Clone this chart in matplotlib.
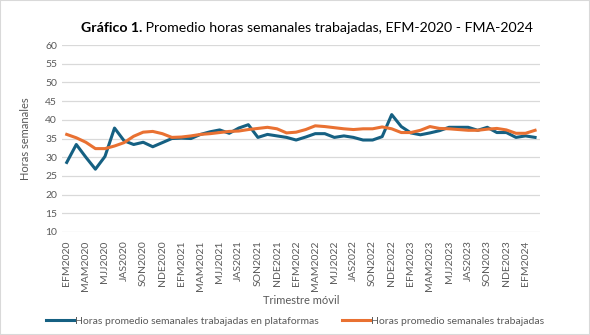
import matplotlib
matplotlib.use("Agg")
import matplotlib.pyplot as plt
from matplotlib.patches import Rectangle

plt.rcParams["font.family"] = ["Lato", "DejaVu Sans"]

quarters = ["EFM", "FMA", "MAM", "AMJ", "MJJ", "JJA",
            "JAS", "ASO", "SON", "OND", "NDE", "DEF"]
years = [2020, 2021, 2022, 2023, 2024]
periods = [f"{q}{y}" for y in years for q in quarters][:50]

plataformas = [28.6, 33.4, 30.0, 26.8, 30.2, 37.8, 34.4, 33.4, 34.0, 32.8,
               33.9, 35.0, 35.1, 35.0, 36.1, 36.8, 37.3, 36.4, 37.8, 38.7,
               35.3, 36.1, 35.7, 35.3, 34.6, 35.4, 36.3, 36.3, 35.3, 35.7,
               35.3, 34.6, 34.6, 35.5, 41.4, 38.2, 36.5, 36.0, 36.5, 37.1,
               38.0, 38.0, 38.0, 37.2, 38.0, 36.6, 36.6, 35.3, 35.7, 35.3]
total = [36.1, 35.2, 34.0, 32.3, 32.3, 33.0, 33.9, 35.6, 36.7, 36.9,
         36.3, 35.3, 35.4, 35.7, 36.1, 36.3, 36.6, 36.9, 37.0, 37.4,
         37.7, 38.0, 37.6, 36.5, 36.7, 37.4, 38.4, 38.2, 37.9, 37.6,
         37.4, 37.6, 37.6, 38.1, 37.6, 36.6, 36.6, 37.2, 38.2, 37.7,
         37.6, 37.4, 37.2, 37.2, 37.5, 37.7, 37.3, 36.4, 36.4, 37.2]

blue = "#156082"
orange = "#E97132"
grey = "#595959"

fig = plt.figure(figsize=(5.9, 3.35), dpi=100)
fig.patches.append(Rectangle((0, 0), 1, 1, transform=fig.transFigure,
                             fill=False, edgecolor="#D9D9D9", linewidth=1.5))
ax = fig.add_axes([0.105, 0.3075, 0.81, 0.558])

x = list(range(len(periods)))
ax.plot(x, plataformas, color=blue, linewidth=2.2,
        label="Horas promedio semanales trabajadas en plataformas")
ax.plot(x, total, color=orange, linewidth=2.2,
        label="Horas promedio semanales trabajadas")

ax.set_xlim(-0.5, len(periods) - 0.5)
ax.set_ylim(10, 60)
ax.set_yticks(range(10, 61, 5))
ax.set_xticks(x[::2])
ax.set_xticklabels(periods[::2], rotation=90)
ax.tick_params(axis="y", length=0, colors=grey, labelsize=7.5)
ax.tick_params(axis="x", length=0, colors=grey, labelsize=7.5, pad=6)
ax.grid(axis="y", color="#D9D9D9", linewidth=0.9)
ax.set_axisbelow(True)
for side in ["top", "right", "left", "bottom"]:
    ax.spines[side].set_visible(False)

ax.set_ylabel("Horas semanales", color=grey, fontsize=8, labelpad=10)
fig.text(0.51, 0.103, "Trimestre móvil", color=grey, fontsize=8,
         ha="center", va="center")

t1 = fig.text(0.137, 0.905, "Gráfico 1.", fontsize=10.2, fontweight="bold",
              color="#000000", va="baseline")
ax.annotate(" Promedio horas semanales trabajadas, EFM-2020 - FMA-2024",
            xy=(1, 0), xycoords=t1, va="bottom", ha="left",
            fontsize=10.2, color="#000000")

fig.legend(loc="center", bbox_to_anchor=(0.5, 0.042), ncol=2, frameon=False,
           fontsize=7.5, labelcolor=grey, handlelength=2.7, handletextpad=0.1,
           columnspacing=2.2)

fig.savefig("out.png", dpi=100)
